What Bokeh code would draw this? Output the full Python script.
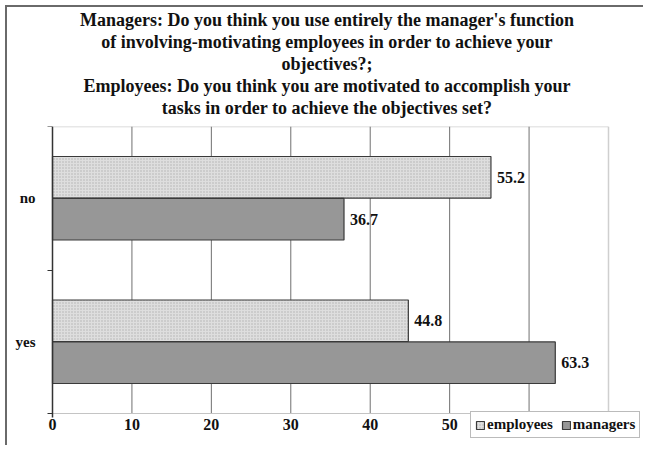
from bokeh.plotting import figure
from bokeh.models import (Range1d, FixedTicker, Title, Legend, LegendItem,
                          ColumnDataSource, LabelSet)
from bokeh.embed import file_html
from bokeh.resources import INLINE

# ---- data ----
categories = ["yes", "no"]          # bottom to top
employees = [44.8, 55.2]
managers = [63.3, 36.7]
x_ticks = [0, 10, 20, 30, 40, 50, 60, 70]
title_lines = [
    "Managers: Do you think you use entirely the manager's function",
    "of involving-motivating employees in order to achieve your",
    "objectives?;",
    "Employees: Do you think you are motivated to accomplish your",
    "tasks in order to achieve the objectives set?",
]

FONT = "Liberation Serif"
n = len(categories)
xmax = x_ticks[-1]
centers = [i + 0.5 for i in range(n)]
off = 0.146
bh = 0.29

emp_src = ColumnDataSource(dict(
    y=[c + off for c in centers], v=employees,
    lab=[f"{v:.1f}" for v in employees]))
man_src = ColumnDataSource(dict(
    y=[c - off for c in centers], v=managers,
    lab=[f"{v:.1f}" for v in managers]))

# layout (pixels)
W, H = 638, 440
ML, MR, MB = 2, 1, 2
sx = 556.0 / xmax          # px per x unit
sy = 287.0 / n             # px per category
x_start = -43.0 / sx
x_end = x_start + (W - ML - MR) / sx
y_start = -32.0 / sy

p = figure(width=W, height=H, output_backend="svg", toolbar_location=None,
           x_range=Range1d(x_start, x_end), y_range=Range1d(y_start, n),
           min_border_left=ML, min_border_right=MR, min_border_top=4,
           min_border_bottom=MB)
p.title = None

# spacer between title block and plot, then title lines (bottom-up)
p.add_layout(Title(text=" ", text_font_size="7px", offset=0, standoff=0), "above")
for line in reversed(title_lines):
    p.add_layout(Title(text=line, align="center", text_font=FONT,
                       text_font_size="18px", text_font_style="bold",
                       text_color="#111111", offset=0, standoff=0), "above")

# plot-area border (top, right) and vertical gridlines
p.segment(x0=[0], x1=[xmax], y0=[n], y1=[n], line_color="#cfcfcf", line_width=1.5)
p.segment(x0=[xmax], x1=[xmax], y0=[0], y1=[n], line_color="#cfcfcf", line_width=1.5)
grid_x = x_ticks[1:-1]
p.segment(x0=grid_x, x1=grid_x, y0=[0] * len(grid_x), y1=[n] * len(grid_x),
          line_color="#707070", line_width=1)

r_emp = p.hbar(y="y", right="v", left=0, height=bh, source=emp_src,
               fill_color="#dedede", line_color="#3a3a3a", line_width=1.2,
               hatch_pattern=".", hatch_scale=3, hatch_color="#b0b0b0",
               hatch_weight=1)
r_man = p.hbar(y="y", right="v", left=0, height=bh, source=man_src,
               fill_color="#979797", line_color="#3a3a3a", line_width=1.2)

for src in (emp_src, man_src):
    p.add_layout(LabelSet(x="v", y="y", text="lab", source=src, x_offset=6,
                          text_baseline="middle", text_font=FONT,
                          text_font_size="16px", text_font_style="bold",
                          text_color="#111111"))

# x axis drawn at y = 0
p.xaxis.fixed_location = 0
p.xaxis.bounds = (0, xmax)
p.xaxis.ticker = FixedTicker(ticks=x_ticks[:-1])
p.xaxis.major_label_text_font = FONT
p.xaxis.major_label_text_font_size = "16px"
p.xaxis.major_label_text_font_style = "bold"
p.xaxis.major_label_text_color = "#111111"
p.xaxis.major_tick_out = 0
p.xaxis.major_tick_in = 0
p.xaxis.minor_tick_out = 0
p.xaxis.minor_tick_in = 0
p.xaxis.axis_line_color = "#c4c4c4"
p.xaxis.major_label_standoff = 5

# y axis drawn at x = 0: labels at category centers, ticks at boundaries
p.yaxis.fixed_location = 0
p.yaxis.bounds = (-0.03, n)
p.yaxis.ticker = FixedTicker(ticks=centers, minor_ticks=list(range(n + 1)))
p.yaxis.major_label_overrides = {c: name for c, name in zip(centers, categories)}
p.yaxis.major_label_text_font = FONT
p.yaxis.major_label_text_font_size = "15px"
p.yaxis.major_label_text_font_style = "bold"
p.yaxis.major_label_text_color = "#111111"
p.yaxis.major_tick_out = 0
p.yaxis.major_tick_in = 0
p.yaxis.minor_tick_out = 5
p.yaxis.minor_tick_in = 0
p.yaxis.minor_tick_line_color = "#333333"
p.yaxis.axis_line_color = "#333333"
p.yaxis.axis_line_width = 1.5
p.yaxis.major_label_standoff = 12

p.xgrid.grid_line_color = None
p.ygrid.grid_line_color = None
p.outline_line_color = None

legend = Legend(items=[LegendItem(label="employees", renderers=[r_emp]),
                       LegendItem(label="managers", renderers=[r_man])],
                orientation="horizontal", location=(461, 7),
                label_text_font=FONT, label_text_font_size="15px",
                label_text_font_style="bold", label_text_color="#111111",
                glyph_width=10, glyph_height=10, label_standoff=2,
                spacing=8, padding=4, margin=0,
                border_line_color="#777777", background_fill_color="white",
                background_fill_alpha=1.0, label_height=16)
p.add_layout(legend)

p.styles = {"margin-left": "5px", "margin-top": "5px",
            "border-top": "2px solid #6a6a6a", "border-left": "2px solid #6a6a6a"}

open("out.html", "w").write(file_html(p, INLINE))
